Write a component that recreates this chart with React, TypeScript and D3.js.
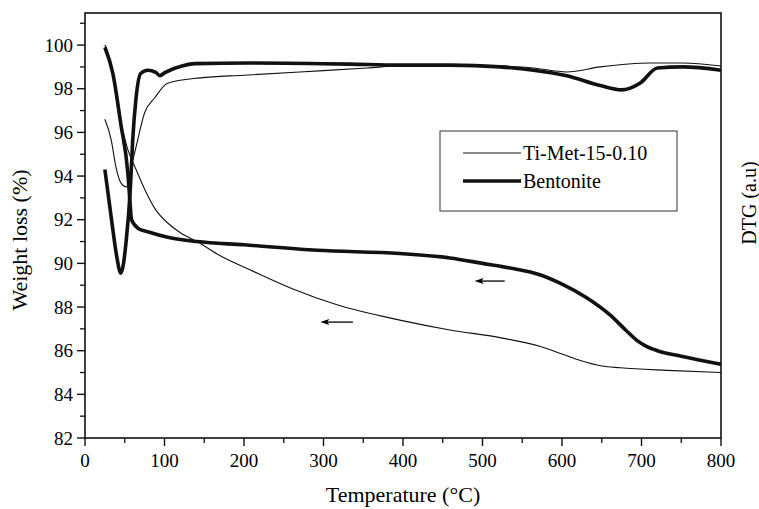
import React from 'react';
import * as d3 from 'd3';

// ---- data ----
// Ti-Met-15-0.10 weight loss (TG), thin
const tiTgT = [25, 30, 35, 42, 48, 54, 63, 75, 89, 104, 120, 141, 170, 208, 260, 317, 396, 459, 522, 572, 600, 623, 650, 673, 732, 800];
const tiTgW = [100, 99.5, 98.7, 96.9, 96.0, 95.2, 94.4, 93.4, 92.45, 91.85, 91.4, 91.0, 90.35, 89.7, 88.85, 88.1, 87.4, 86.95, 86.6, 86.2, 85.85, 85.55, 85.3, 85.22, 85.1, 85.0];
// Ti-Met-15-0.10 DTG, thin
const tiDtgT = [25, 33, 39, 45, 52, 58, 64, 75, 88, 104, 145, 200, 270, 355, 396, 460, 520, 564, 606, 648, 711, 752, 800];
const tiDtgV = [96.6, 95.65, 94.4, 93.7, 93.5, 94.4, 95.3, 96.9, 97.6, 98.25, 98.5, 98.62, 98.77, 98.95, 99.05, 99.1, 99.05, 98.95, 98.77, 99.0, 99.18, 99.18, 99.04];
// Bentonite weight loss (TG), thick
const bnTgT = [25, 35, 45, 54, 57, 58.5, 67, 79, 104, 141, 200, 292, 396, 459, 500, 540, 570, 600, 630, 660, 680, 695, 705, 720, 750, 800];
const bnTgW = [99.9, 98.7, 96.4, 94.1, 92.6, 92.0, 91.6, 91.45, 91.2, 91.0, 90.85, 90.6, 90.45, 90.25, 90.0, 89.75, 89.5, 89.05, 88.45, 87.65, 86.95, 86.45, 86.22, 86.0, 85.75, 85.38];
// Bentonite DTG, thick
const bnDtgT = [25, 33, 40, 45, 52, 57, 60, 64, 70, 79, 89, 94, 101, 123, 138, 208, 333, 396, 459, 522, 564, 606, 648, 675, 698, 720, 752, 800];
const bnDtgV = [94.3, 92.1, 90.3, 89.55, 91.1, 93.4, 95.65, 97.5, 98.7, 98.85, 98.75, 98.6, 98.75, 99.05, 99.15, 99.18, 99.13, 99.08, 99.08, 99.0, 98.85, 98.6, 98.15, 97.95, 98.25, 98.95, 99.0, 98.85];

const xTicks = [0, 100, 200, 300, 400, 500, 600, 700, 800];
const xMinor = [50, 150, 250, 350, 450, 550, 650, 750];
const yTicks = [82, 84, 86, 88, 90, 92, 94, 96, 98, 100];
const yMinor = [83, 85, 87, 89, 91, 93, 95, 97, 99, 101];

const seriesNames = ['Ti-Met-15-0.10', 'Bentonite'];
// arrows: [x start, x end, y] in data units (pointing to the left axis)
const arrowA = [528, 490, 89.19];
const arrowB = [337, 296, 87.31];

const SERIF = '"Liberation Serif"';

function T(props: any) {
  const { children, ...rest } = props;
  return <text {...rest} fontFamily="Liberation Serif" style={{ fontFamily: SERIF }}>{children}</text>;
}

export default function App() {
  const W = 759, H = 509;
  const L = 85, R = 721, TOP = 13, B = 438;
  const x = d3.scaleLinear().domain([0, 800]).range([L, R]);
  const y = d3.scaleLinear().domain([82, 101.47]).range([B, TOP]);
  const line = d3.line<[number, number]>().x(d => x(d[0])).y(d => y(d[1])).curve(d3.curveMonotoneX);
  const zip = (a: number[], b: number[]) => a.map((v, i) => [v, b[i]] as [number, number]);

  const arrow = (a: number[], k: string) => {
    const x0 = x(a[0]), x1 = x(a[1]), yy = y(a[2]);
    return (
      <g key={k}>
        <line x1={x0} x2={x1 + 6} y1={yy} y2={yy} stroke="#000" strokeWidth={1.3} />
        <path d={`M${x1},${yy} L${x1 + 9},${yy - 3} L${x1 + 7},${yy} L${x1 + 9},${yy + 3} Z`} fill="#000" />
      </g>
    );
  };

  return (
    <svg width={W} height={H} style={{ position: 'absolute', left: 0, top: 0, background: '#fff' }}>
      <style>{`text { font-family: "Liberation Serif", "Times New Roman", serif; }`}</style>
      <rect x={0} y={0} width={W} height={H} fill="#fff" />
      {/* curves */}
      <path d={line(zip(tiTgT, tiTgW)) || ''} fill="none" stroke="#111" strokeWidth={1.1} />
      <path d={line(zip(tiDtgT, tiDtgV)) || ''} fill="none" stroke="#111" strokeWidth={1.1} />
      <path d={line(zip(bnTgT, bnTgW)) || ''} fill="none" stroke="#111" strokeWidth={3.6} strokeLinejoin="round" />
      <path d={line(zip(bnDtgT, bnDtgV)) || ''} fill="none" stroke="#111" strokeWidth={3.6} strokeLinejoin="round" />

      {arrow(arrowA, 'a')}
      {arrow(arrowB, 'b')}

      {/* frame */}
      <rect x={L} y={TOP} width={R - L} height={B - TOP} fill="none" stroke="#111" strokeWidth={1.6} />

      {/* y ticks */}
      {yTicks.map(t => (
        <g key={'y' + t}>
          <line x1={L - 8} x2={L} y1={y(t)} y2={y(t)} stroke="#111" strokeWidth={1.4} />
          <T x={L - 12} y={y(t)} dy="0.35em" textAnchor="end" fontSize={19}>{t}</T>
        </g>
      ))}
      {yMinor.map(t => (
        <line key={'ym' + t} x1={L - 5} x2={L} y1={y(t)} y2={y(t)} stroke="#111" strokeWidth={1.3} />
      ))}
      {/* x ticks */}
      {xTicks.map(t => (
        <g key={'x' + t}>
          <line x1={x(t)} x2={x(t)} y1={B} y2={B + 8} stroke="#111" strokeWidth={1.4} />
          <T x={x(t)} y={B + 29} textAnchor="middle" fontSize={19}>{t}</T>
        </g>
      ))}
      {xMinor.map(t => (
        <line key={'xm' + t} x1={x(t)} x2={x(t)} y1={B} y2={B + 5} stroke="#111" strokeWidth={1.3} />
      ))}

      {/* axis titles */}
      <T x={(L + R) / 2} y={502} textAnchor="middle" fontSize={22}>Temperature (°C)</T>
      <T transform={`translate(27,${240}) rotate(-90)`} textAnchor="middle" fontSize={22}>Weight loss (%)</T>
      <T transform={`translate(756,${203}) rotate(-90)`} textAnchor="middle" fontSize={20}>DTG (a.u)</T>

      {/* legend */}
      <rect x={440} y={131} width={237} height={80} fill="#fff" stroke="#333" strokeWidth={1} />
      <line x1={463} x2={521} y1={153} y2={153} stroke="#111" strokeWidth={1.1} />
      <T x={523} y={153} dy="0.35em" fontSize={20}>{seriesNames[0]}</T>
      <line x1={463} x2={521} y1={181} y2={181} stroke="#111" strokeWidth={3.6} />
      <T x={523} y={181} dy="0.35em" fontSize={20}>{seriesNames[1]}</T>
    </svg>
  );
}
